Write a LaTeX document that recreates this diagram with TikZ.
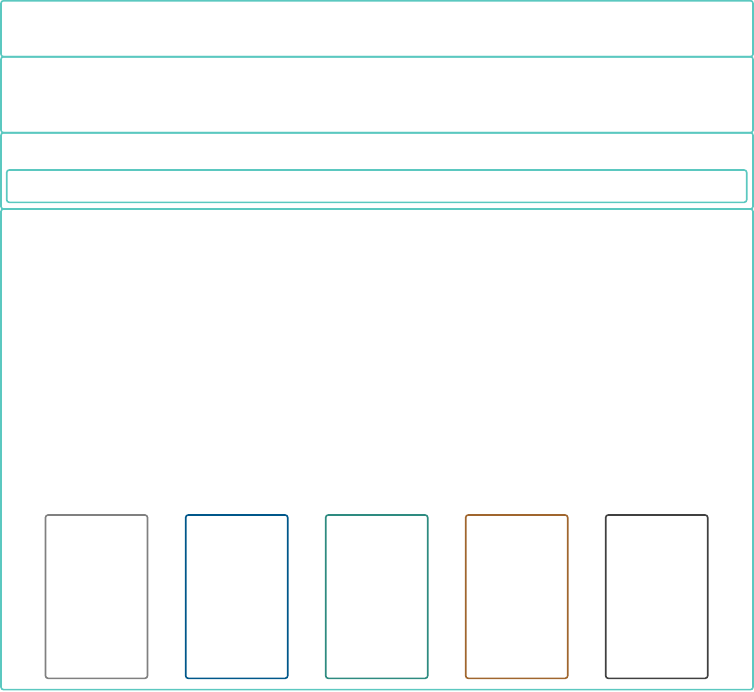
\documentclass[tikz,border=0pt]{standalone}
\usetikzlibrary{positioning}
\definecolor{bandteal}{RGB}{91,200,192}
\definecolor{cgray}{RGB}{128,128,128}
\definecolor{cblue}{RGB}{0,87,138}
\definecolor{cteal}{RGB}{46,139,128}
\definecolor{cbrown}{RGB}{160,102,46}
\definecolor{cdark}{RGB}{64,64,64}
\tikzset{
  boxbase/.style={rectangle, rounded corners=2.5pt, inner sep=0pt, outer sep=0pt, line width=1.6pt, fill=none},
  band/.style={boxbase, draw=bandteal},
  card/.style={boxbase, draw=#1, minimum width=102pt, minimum height=163.3pt},
}
\begin{document}
\begin{tikzpicture}[x=1pt,y=-1pt]
\useasboundingbox (0,0) rectangle (754,691);
% bands
\node[band, minimum width=752pt, minimum height=56pt] (b1) at (377,28.7) {};
\node[band, minimum width=752pt, minimum height=76pt] (b2) at (377,94.7) {};
\node[band, minimum width=752pt, minimum height=76.3pt] (b3) at (377,170.85) {};
\node[band, minimum width=740pt, minimum height=32.3pt] (b3in) at (376.7,186.15) {};
\node[band, minimum width=752pt, minimum height=480.6pt] (b4) at (377,449.3) {};
% cards
\node[card=cgray] (c1) at (96.5,596.65) {};
\node[card=cblue] (c2) at (236.7,596.65) {};
\node[card=cteal] (c3) at (376.7,596.65) {};
\node[card=cbrown] (c4) at (516.7,596.65) {};
\node[card=cdark] (c5) at (656.7,596.65) {};
\end{tikzpicture}
\end{document}
